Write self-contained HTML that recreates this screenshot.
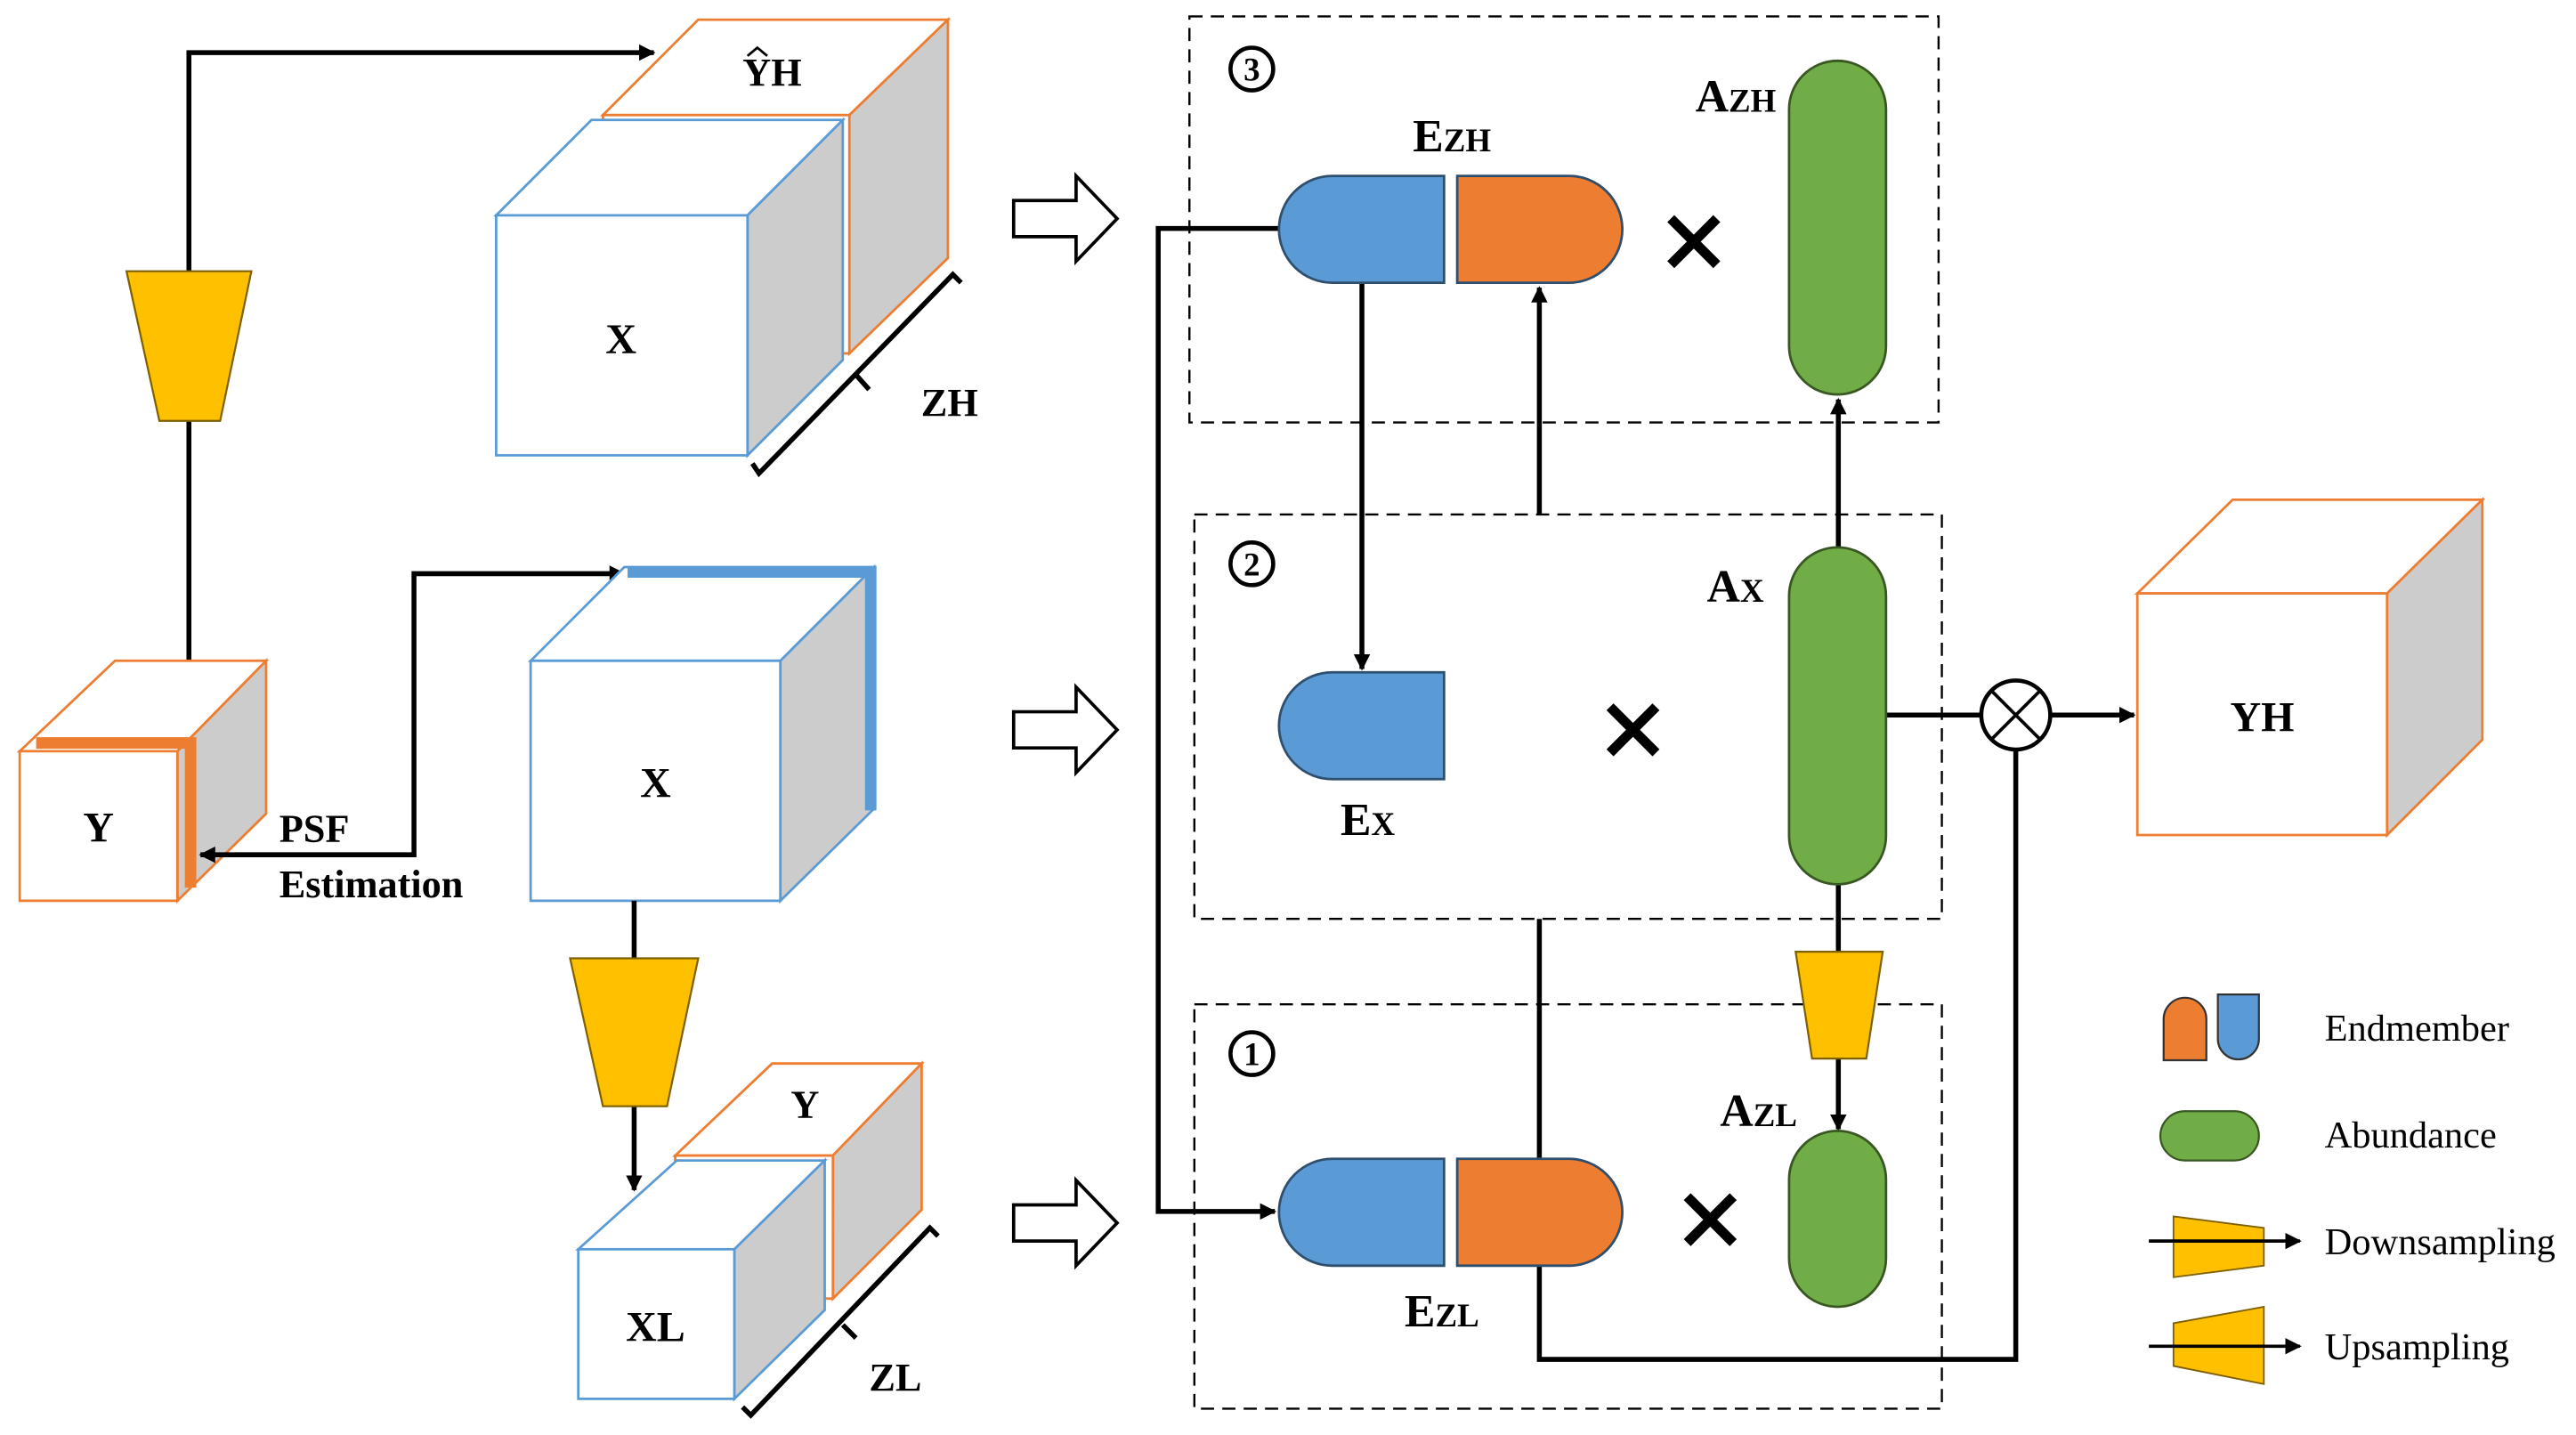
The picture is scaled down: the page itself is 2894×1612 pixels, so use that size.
<!DOCTYPE html>
<html><head><meta charset="utf-8"><style>html,body{margin:0;padding:0;background:#fff}svg{display:block}text{font-family:"Liberation Serif","DejaVu Serif",serif}</style></head><body>
<svg width="2894" height="1612" viewBox="0 0 1568 873" preserveAspectRatio="none" xmlns="http://www.w3.org/2000/svg" font-weight="bold">
<defs>
<marker id="ar" markerWidth="10" markerHeight="10" refX="9" refY="5" orient="auto-start-reverse" markerUnits="userSpaceOnUse"><path d="M0,0 L10,5 L0,10 Z" fill="#000"/></marker>
</defs>
<rect width="1568" height="873" fill="#fff"/>
<polyline points="115,165 115,32 398,32" fill="none" stroke="#000" stroke-width="3" marker-end="url(#ar)"/>
<line x1="115" y1="256" x2="115" y2="402" stroke="#000" stroke-width="3"/>
<polygon points="77,165 153,165 134,256 97,256" fill="#FFC000" stroke="#7f6000" stroke-width="1.2"/>
<polygon points="367,70 425,12 577,12 517,70" fill="#fff" stroke="#ED7D31" stroke-width="1.5"/>
<polygon points="517,70 577,12 577,157 517,215" fill="#ccc" stroke="#ED7D31" stroke-width="1.5"/>
<rect x="367" y="70" width="150" height="145" fill="#fff" stroke="#ED7D31" stroke-width="1.5"/>
<text x="470" y="52" font-size="24" text-anchor="middle">YH</text>
<path d="M455,34 L461,29 L467,34" fill="none" stroke="#000" stroke-width="1.5"/>
<polygon points="302,131 360,73 513,73 455,131" fill="#fff" stroke="#5B9BD5" stroke-width="1.5"/>
<polygon points="455,131 513,73 513,219 455,277" fill="#ccc" stroke="#5B9BD5" stroke-width="1.5"/>
<rect x="302" y="131" width="153" height="146" fill="#fff" stroke="#5B9BD5" stroke-width="1.5"/>
<text x="378" y="215" font-size="26" text-anchor="middle">X</text>
<polyline points="458,282 462,288 580,167 585,172" fill="none" stroke="#000" stroke-width="3"/>
<line x1="521" y1="228" x2="529" y2="237" stroke="#000" stroke-width="3"/>
<text x="578" y="253" font-size="24" text-anchor="middle">ZH</text>
<polygon points="12,457 70,402 162,402 108,457" fill="#fff" stroke="#ED7D31" stroke-width="1.5"/>
<polygon points="108,457 162,402 162,495 108,548" fill="#ccc" stroke="#ED7D31" stroke-width="1.5"/>
<rect x="12" y="457" width="96" height="91" fill="#fff" stroke="#ED7D31" stroke-width="1.5"/>
<polyline points="22,452 116,452 116,540" fill="none" stroke="#ED7D31" stroke-width="7"/>
<text x="60" y="512" font-size="26" text-anchor="middle">Y</text>
<polyline points="380,349 252,349 252,520 122,520" fill="none" stroke="#000" stroke-width="3" marker-start="url(#ar)" marker-end="url(#ar)"/>
<text x="170" y="512" font-size="24">PSF</text>
<text x="170" y="546" font-size="24">Estimation</text>
<polygon points="323,402 380,345 532,345 475,402" fill="#fff" stroke="#5B9BD5" stroke-width="1.5"/>
<polygon points="475,402 532,345 532,492 475,548" fill="#ccc" stroke="#5B9BD5" stroke-width="1.5"/>
<rect x="323" y="402" width="152" height="146" fill="#fff" stroke="#5B9BD5" stroke-width="1.5"/>
<polyline points="382,348 530,348 530,493" fill="none" stroke="#5B9BD5" stroke-width="7"/>
<text x="399" y="485" font-size="26" text-anchor="middle">X</text>
<line x1="386" y1="548" x2="386" y2="583" stroke="#000" stroke-width="3"/>
<line x1="386" y1="673" x2="386" y2="724" stroke="#000" stroke-width="3" marker-end="url(#ar)"/>
<polygon points="347,583 425,583 406,673 367,673" fill="#FFC000" stroke="#7f6000" stroke-width="1.2"/>
<polygon points="411,703 470,647 561,647 507,703" fill="#fff" stroke="#ED7D31" stroke-width="1.5"/>
<polygon points="507,703 561,647 561,736 507,790" fill="#ccc" stroke="#ED7D31" stroke-width="1.5"/>
<rect x="411" y="703" width="96" height="87" fill="#fff" stroke="#ED7D31" stroke-width="1.5"/>
<text x="490" y="680" font-size="24" text-anchor="middle">Y</text>
<polygon points="352,760 412,706 502,706 447,760" fill="#fff" stroke="#5B9BD5" stroke-width="1.5"/>
<polygon points="447,760 502,706 502,797 447,851" fill="#ccc" stroke="#5B9BD5" stroke-width="1.5"/>
<rect x="352" y="760" width="95" height="91" fill="#fff" stroke="#5B9BD5" stroke-width="1.5"/>
<text x="399" y="816" font-size="26" text-anchor="middle">XL</text>
<polyline points="452,856 457,861 566,747 571,752" fill="none" stroke="#000" stroke-width="3"/>
<line x1="513" y1="806" x2="521" y2="814" stroke="#000" stroke-width="3"/>
<text x="545" y="846" font-size="24" text-anchor="middle">ZL</text>
<g fill="#fff" stroke="#000" stroke-width="2">
<polygon points="617,122 655,122 655,107 680,133 655,159 655,144 617,144"/>
<polygon points="617,433 655,433 655,418 680,444 655,470 655,455 617,455"/>
<polygon points="617,733 655,733 655,718 680,744 655,770 655,755 617,755"/>
</g>
<g fill="none" stroke="#000" stroke-width="1.3" stroke-dasharray="8,5">
<rect x="724" y="10" width="456" height="247"/>
<rect x="727" y="313" width="455" height="246"/>
<rect x="727" y="611" width="455" height="246"/>
</g>
<g font-size="20" text-anchor="middle">
<circle cx="762" cy="42" r="13" fill="none" stroke="#000" stroke-width="2.5"/><text x="762" y="49">3</text>
<circle cx="762" cy="343" r="13" fill="none" stroke="#000" stroke-width="2.5"/><text x="762" y="350">2</text>
<circle cx="762" cy="641" r="13" fill="none" stroke="#000" stroke-width="2.5"/><text x="762" y="648">1</text>
</g>
<polyline points="778,139 705,139 705,737 776,737" fill="none" stroke="#000" stroke-width="3" marker-end="url(#ar)"/>
<line x1="829" y1="172" x2="829" y2="407" stroke="#000" stroke-width="3" marker-end="url(#ar)"/>
<line x1="937" y1="313" x2="937" y2="175" stroke="#000" stroke-width="3" marker-end="url(#ar)"/>
<line x1="1119" y1="333" x2="1119" y2="243" stroke="#000" stroke-width="3" marker-end="url(#ar)"/>
<line x1="1119" y1="538" x2="1119" y2="579" stroke="#000" stroke-width="3"/>
<line x1="1119" y1="644" x2="1119" y2="687" stroke="#000" stroke-width="3" marker-end="url(#ar)"/>
<line x1="937" y1="559" x2="937" y2="705" stroke="#000" stroke-width="3"/>
<polyline points="937,770 937,827 1227,827 1227,456" fill="none" stroke="#000" stroke-width="3"/>
<line x1="1148" y1="435" x2="1206" y2="435" stroke="#000" stroke-width="3"/>
<line x1="1248" y1="435" x2="1299" y2="435" stroke="#000" stroke-width="3" marker-end="url(#ar)"/>
<circle cx="1227" cy="435" r="21" fill="#fff" stroke="#000" stroke-width="2.5"/>
<line x1="1212" y1="420" x2="1242" y2="450" stroke="#000" stroke-width="2"/>
<line x1="1242" y1="420" x2="1212" y2="450" stroke="#000" stroke-width="2"/>
<g stroke="#2f4f6f" stroke-width="1.5">
<path d="M879,107 H811 A32.5,32.5 0 0 0 811,172 H879 Z" fill="#5B9BD5"/>
<path d="M887,107 H955 A32.5,32.5 0 0 1 955,172 H887 Z" fill="#ED7D31"/>
<path d="M879,409 H811 A32.5,32.5 0 0 0 811,474 H879 Z" fill="#5B9BD5"/>
<path d="M879,705 H811 A32.5,32.5 0 0 0 811,770 H879 Z" fill="#5B9BD5"/>
<path d="M887,705 H955 A32.5,32.5 0 0 1 955,770 H887 Z" fill="#ED7D31"/>
</g>
<g fill="#70AD47" stroke="#385723" stroke-width="1.5">
<rect x="1089" y="37" width="59" height="203" rx="29.5"/>
<rect x="1089" y="333" width="59" height="205" rx="29.5"/>
<rect x="1089" y="688" width="59" height="107" rx="29.5"/>
</g>
<polygon points="1093,579 1146,579 1136,644 1103,644" fill="#FFC000" stroke="#7f6000" stroke-width="1.2"/>
<g stroke="#000" stroke-width="6">
<path d="M1017,133 L1045,161 M1045,133 L1017,161"/>
<path d="M980,430 L1008,458 M1008,430 L980,458"/>
<path d="M1027,728 L1055,756 M1055,728 L1027,756"/>
</g>
<g font-size="28">
<text x="860" y="92">E<tspan font-size="20">ZH</tspan></text>
<text x="1032" y="68">A<tspan font-size="20">ZH</tspan></text>
<text x="816" y="508">E<tspan font-size="20">X</tspan></text>
<text x="1039" y="366">A<tspan font-size="20">X</tspan></text>
<text x="1047" y="685">A<tspan font-size="20">ZL</tspan></text>
<text x="855" y="807">E<tspan font-size="20">ZL</tspan></text>
</g>
<polygon points="1301,361 1359,304 1511,304 1453,361" fill="#fff" stroke="#ED7D31" stroke-width="1.5"/>
<polygon points="1453,361 1511,304 1511,450 1453,508" fill="#ccc" stroke="#ED7D31" stroke-width="1.5"/>
<rect x="1301" y="361" width="152" height="147" fill="#fff" stroke="#ED7D31" stroke-width="1.5"/>
<text x="1377" y="445" font-size="26" text-anchor="middle">YH</text>
<path d="M1317,645 V620 A13,13 0 0 1 1343,620 V645 Z" fill="#ED7D31" stroke="#333" stroke-width="1.2"/>
<path d="M1350,605 H1375 V632 A12.5,12.5 0 0 1 1350,632 Z" fill="#5B9BD5" stroke="#333" stroke-width="1.2"/>
<rect x="1315" y="676" width="60" height="30" rx="15" fill="#70AD47" stroke="#385723" stroke-width="1.2"/>
<polygon points="1323,740 1378,747 1378,770 1323,777" fill="#FFC000" stroke="#7f6000" stroke-width="1"/>
<line x1="1308" y1="755" x2="1400" y2="755" stroke="#000" stroke-width="2" marker-end="url(#ar)"/>
<polygon points="1323,805 1378,795 1378,842 1323,831" fill="#FFC000" stroke="#7f6000" stroke-width="1"/>
<line x1="1308" y1="819" x2="1400" y2="819" stroke="#000" stroke-width="2" marker-end="url(#ar)"/>
<g font-size="23" font-weight="normal">
<text x="1415" y="633">Endmember</text>
<text x="1415" y="698">Abundance</text>
<text x="1415" y="763">Downsampling</text>
<text x="1415" y="827">Upsampling</text>
</g>
</svg>
</body></html>
